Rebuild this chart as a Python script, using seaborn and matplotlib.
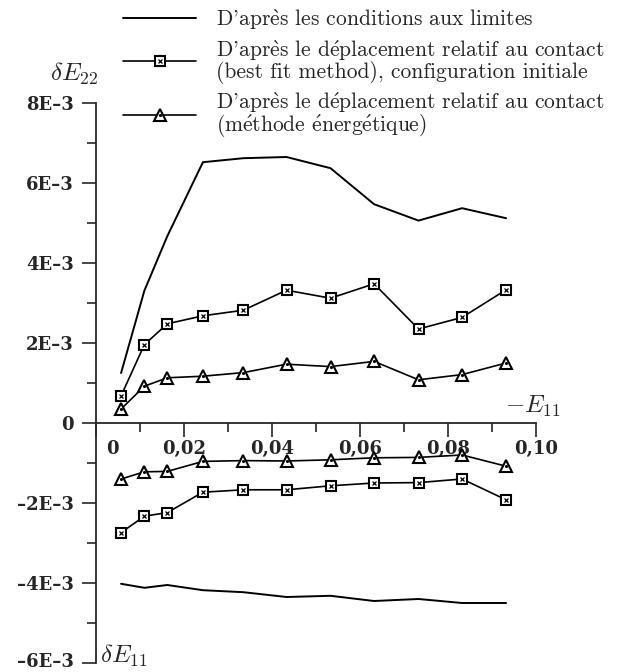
import seaborn as sns
import matplotlib.pyplot as plt
import matplotlib.transforms as mtransforms
from matplotlib.lines import Line2D
from matplotlib.ticker import MultipleLocator

# Déformation -E11 (axe horizontal)
x_e11 = [0.0057, 0.011, 0.0162, 0.0243, 0.0335, 0.0433, 0.0533, 0.0632, 0.0733, 0.0832, 0.0932]

# delta E22 (partie haute), en 1E-3
e22_limites = [1.25, 3.31, 4.67, 6.52, 6.62, 6.65, 6.37, 5.47, 5.06, 5.37, 5.12]
e22_bestfit = [0.68, 1.96, 2.48, 2.68, 2.82, 3.32, 3.12, 3.48, 2.35, 2.64, 3.33]
e22_energie = [0.35, 0.92, 1.13, 1.17, 1.26, 1.47, 1.41, 1.54, 1.08, 1.21, 1.50]

# delta E11 (partie basse), en 1E-3
e11_limites = [-4.02, -4.12, -4.05, -4.18, -4.23, -4.35, -4.32, -4.45, -4.40, -4.50, -4.50]
e11_bestfit = [-2.74, -2.33, -2.24, -1.73, -1.67, -1.67, -1.57, -1.50, -1.49, -1.40, -1.92]
e11_energie = [-1.40, -1.22, -1.21, -0.96, -0.94, -0.95, -0.92, -0.87, -0.86, -0.80, -1.08]

xticks = [0, 0.02, 0.04, 0.06, 0.08, 0.10]
xtick_labels = ['0', '0,02', '0,04', '0,06', '0,08', '0,10']
yticks = [-6, -4, -2, 0, 2, 4, 6, 8]
ytick_labels = ['–6E–3', '–4E–3', '–2E–3', '0', '2E–3', '4E–3', '6E–3', '8E–3']

# accents via mathtext pour rester en Computer Modern
e_grave = r'$\grave{\mathrm{e}}$'
e_aigu = r'$\acute{\mathrm{e}}$'
legend_labels = [
    "D'apr" + e_grave + "s les conditions aux limites",
    "D'apr" + e_grave + "s le d" + e_aigu + "placement relatif au contact\n(best fit method), configuration initiale",
    "D'apr" + e_grave + "s le d" + e_aigu + "placement relatif au contact\n(m" + e_aigu + "thode " + e_aigu + "nerg" + e_aigu + "tique)",
]

sns.set_style('ticks')
plt.rcParams['mathtext.fontset'] = 'cm'
plt.rcParams['font.family'] = ['DejaVu Serif']

fig = plt.figure(figsize=(6.22, 6.72), dpi=100)
ax = fig.add_axes([96 / 622, 9 / 672, 440 / 622, 560 / 672])

sq = dict(marker='s', markersize=7, markerfacecolor='white', markeredgecolor='k', markeredgewidth=1.5)
sq_in = dict(marker='x', markersize=3, markeredgecolor='k', markeredgewidth=0.9, linestyle='none')
tri = dict(marker='^', markersize=8.5, markerfacecolor='white', markeredgecolor='k', markeredgewidth=1.5)
tri_in = dict(marker='.', markersize=2.5, markeredgecolor='k', markerfacecolor='k', linestyle='none')

for ys in [e22_limites, e11_limites]:
    sns.lineplot(x=x_e11, y=ys, ax=ax, color='k', lw=1.4, sort=False, estimator=None)
for ys in [e22_bestfit, e11_bestfit]:
    sns.lineplot(x=x_e11, y=ys, ax=ax, color='k', lw=1.2, sort=False, estimator=None, **sq)
    ax.plot(x_e11, ys, **sq_in)
for ys in [e22_energie, e11_energie]:
    sns.lineplot(x=x_e11, y=ys, ax=ax, color='k', lw=1.2, sort=False, estimator=None, **tri)
    ax.plot(x_e11, ys, **tri_in)

ax.set_xlim(0, 0.10)
ax.set_ylim(-6, 8)
ax.spines['top'].set_visible(False)
ax.spines['right'].set_visible(False)
ax.spines['bottom'].set_position(('data', 0))
for s in ['left', 'bottom']:
    ax.spines[s].set_linewidth(1.3)

ax.set_xticks(xticks)
ax.set_xticklabels(xtick_labels)
ax.xaxis.set_minor_locator(MultipleLocator(0.01))
ax.set_yticks(yticks)
ax.set_yticklabels(ytick_labels)
ax.yaxis.set_minor_locator(MultipleLocator(1))
ax.tick_params(which='major', length=10, width=1.2, pad=2)
ax.tick_params(which='minor', length=6.5, width=1.2)
ax.tick_params(axis='y', pad=6)
for lab in ax.get_xticklabels() + ax.get_yticklabels():
    lab.set_fontfamily('DejaVu Serif')
    lab.set_fontweight('bold')
    lab.set_fontsize(13)
# le "0" de l'axe horizontal est décalé à droite de l'axe vertical
xl0 = ax.get_xticklabels()[0]
xl0.set_transform(xl0.get_transform() + mtransforms.ScaledTranslation(16 / 100, 0, fig.dpi_scale_trans))
# le "-6E-3" remonte un peu pour rester dans l'image
yl0 = ax.get_yticklabels()[0]
yl0.set_transform(yl0.get_transform() + mtransforms.ScaledTranslation(0, 3 / 100, fig.dpi_scale_trans))
ax.set_xlabel('')
ax.set_ylabel('')

fig.text(98 / 622, 1 - 74 / 672, r'$\delta E_{22}$', ha='right', va='center', fontsize=18)
fig.text(561 / 622, 1 - 406 / 672, r'$-E_{11}$', ha='right', va='center', fontsize=18)
fig.text(100 / 622, 9 / 672, r'$\delta E_{11}$', ha='left', va='baseline', fontsize=18)

h1 = Line2D([], [], color='k', lw=1.4)
h2 = (Line2D([], [], color='k', lw=1.2, **sq), Line2D([], [], **sq_in))
h3 = (Line2D([], [], color='k', lw=1.2, **tri), Line2D([], [], **tri_in))
leg = fig.legend([h1, h2, h3], legend_labels, loc='upper left',
                 bbox_to_anchor=(123 / 622, 1 - 7 / 672), frameon=False,
                 borderpad=0, borderaxespad=0, handlelength=3.4, handletextpad=0.9,
                 labelspacing=0.3, prop={'family': ['cmr10', 'DejaVu Serif'], 'size': 15.5})
for t in leg.get_texts():
    t.set_linespacing(0.85)

fig.savefig('out.png', dpi=100)
